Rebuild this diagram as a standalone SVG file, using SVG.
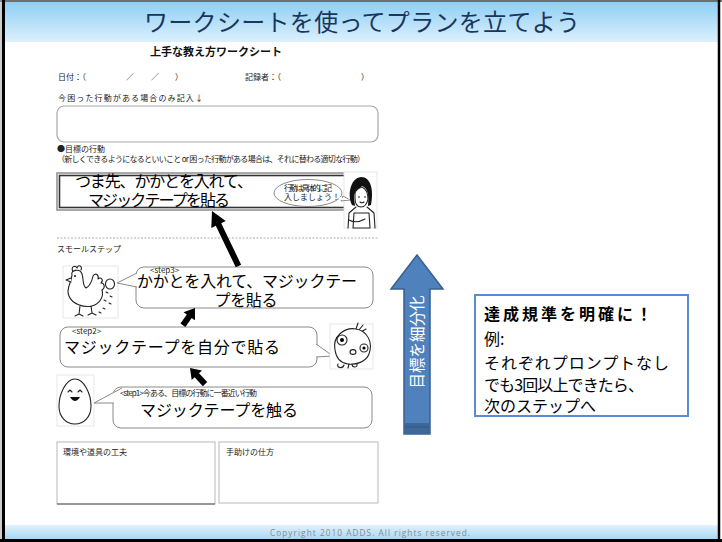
<svg xmlns="http://www.w3.org/2000/svg" width="722" height="542" viewBox="0 0 722 542">
  <defs>
    <linearGradient id="titleGrad" x1="0" y1="0" x2="0" y2="1">
      <stop offset="0" stop-color="#8ecff4"/>
      <stop offset="1" stop-color="#dcf0fd"/>
    </linearGradient>
    <linearGradient id="footGrad" x1="0" y1="0" x2="0" y2="1">
      <stop offset="0" stop-color="#e2f2fd"/>
      <stop offset="1" stop-color="#a6d7f5"/>
    </linearGradient>
    <style>
      .jp { font-family: "Noto Sans CJK JP", "Noto Sans", sans-serif; }
      .ws { font-family: "Noto Sans CJK JP", "Noto Sans", sans-serif; font-size: 8px; fill: #222; }
      .big { font-family: "Noto Sans CJK JP", "Noto Sans", sans-serif; font-size: 16px; fill: #000; }
      .bubble { fill: #fff; stroke: #8a8a8a; stroke-width: 1; }
      .ink { fill: #fff; stroke: #222; stroke-width: 1.1; stroke-linejoin: round; stroke-linecap: round; }
      .inkline { fill: none; stroke: #222; stroke-width: 1.1; stroke-linecap: round; stroke-linejoin: round; }
      .frame { fill: #fff; stroke: #e2e2e2; stroke-width: 0.8; }
      .blk { fill: #000; }
      .note { font-family: "Noto Sans CJK JP", "Noto Sans", sans-serif; font-size: 16px; fill: #000; }
    </style>
  </defs>

  <!-- slide background and frame -->
  <rect x="0" y="0" width="722" height="542" fill="#fff"/>
  <rect x="3" y="2" width="716" height="40" fill="url(#titleGrad)"/>
  <rect x="3" y="525" width="716" height="14" fill="url(#footGrad)"/>
  <line x1="0" y1="1" x2="722" y2="1" stroke="#6f6f6f" stroke-width="2"/>
  <line x1="3.5" y1="0" x2="3.5" y2="542" stroke="#000" stroke-width="3"/>
  <line x1="1" y1="0" x2="1" y2="542" stroke="#9a9a9a" stroke-width="1"/>
  <line x1="719" y1="0" x2="719" y2="542" stroke="#000" stroke-width="2.5"/>
  <line x1="0" y1="540.5" x2="722" y2="540.5" stroke="#000" stroke-width="3"/>

  <text x="362" y="31" text-anchor="middle" class="jp" font-size="24" fill="#1b365d" textLength="436">ワークシートを使ってプランを立てよう</text>
  <text x="370" y="536" text-anchor="middle" font-family="'Open Sans', 'DejaVu Sans', sans-serif" font-size="8.3" fill="#8a8a8a" textLength="200">Copyright 2010 ADDS. All rights reserved.</text>

  <!-- worksheet header -->
  <g id="sheet-header">
    <text x="216" y="56" text-anchor="middle" class="jp" font-size="11" font-weight="bold" fill="#111" textLength="132">上手な教え方ワークシート</text>
    <text x="58" y="80" class="ws">日付：（</text>
    <text x="126" y="80" class="ws">／</text>
    <text x="151" y="80" class="ws">／</text>
    <text x="175" y="80" class="ws">）</text>
    <text x="245" y="80" class="ws">記録者：（</text>
    <text x="361" y="80" class="ws">）</text>
    <text x="58" y="101" class="ws" textLength="145">今困った行動がある場合のみ記入↓</text>
    <rect x="57" y="106" width="321" height="36" rx="7" fill="#fff" stroke="#a8a8a8" stroke-width="1.2"/>
    <text x="57" y="152" class="ws" font-size="8.5">●目標の行動</text>
    <text x="57" y="162" class="ws" font-size="7" textLength="308">（新しくできるようになるといいこと or 困った行動がある場合は、それに替わる適切な行動）</text>
  </g>

  <!-- goal behaviour -->
  <g id="goal">
    <rect x="57" y="173" width="319" height="37" fill="#fff" stroke="#8d8d8d" stroke-width="1.5"/>
    <rect x="59.5" y="175.5" width="314" height="32" fill="none" stroke="#333" stroke-width="1.6"/>
    <text x="75" y="187" class="big" font-size="15" textLength="178">つま先、かかとを入れて、</text>
    <text x="88" y="206" class="big" font-size="15" textLength="142">マジックテープを貼る</text>
  </g>

  <!-- teacher with speech bubble -->
  <g id="teacher">
    <rect x="344" y="172" width="33" height="56" class="frame"/>
    <path d="M343,196 L350,200 L341,201 Z" class="bubble"/>
    <ellipse cx="308" cy="193" rx="34" ry="13.5" class="bubble"/>
    <path d="M339,197 L350,200 L339,200" fill="#fff" stroke="none"/>
    <text x="284" y="191" class="ws" font-size="6" fill="#444" textLength="48">行動は具体的に記</text>
    <text x="284" y="200" class="ws" font-size="6" fill="#444">入しましょう！</text>
    <!-- hair -->
    <path d="M352,205 C347,196 350,178 361,177 C371,177 374,190 371,205 L368,206 C369,196 368,188 362,186 C358,190 355,191 354,196 C354,200 355,204 355,206 Z" fill="#111"/>
    <!-- face -->
    <path d="M355,193 C356,190 359,188 362,187 C366,189 368,193 368,199 C367,204 364,207 361,207 C357,207 355,203 355,198 Z" class="ink"/>
    <circle cx="359" cy="197" r="0.8" class="blk"/>
    <circle cx="365" cy="197" r="0.8" class="blk"/>
    <path d="M360,202 Q362,203.5 364,202" class="inkline"/>
    <!-- body -->
    <path d="M356,207 L349,213 L348,228 M367,207 L374,213 L375,228" class="inkline"/>
    <path d="M354,213 L369,213 L370,228 L353,228 Z" class="ink"/>
    <path d="M349,220 Q356,224 365,219" class="inkline"/>
  </g>

  <!-- small steps section -->
  <line x1="57" y1="238" x2="378" y2="238" stroke="#9a9a9a" stroke-width="0.8" stroke-dasharray="2,1.5"/>
  <text x="57" y="252" class="ws">スモールステップ</text>

  <!-- hen -->
  <g id="hen">
    <rect x="63" y="266" width="55" height="52" class="frame"/>
    <path d="M73,272 C70,266 76,265 77,268 C78,264 83,266 81,270" class="ink"/>
    <path d="M72,275 C70,270 80,268 82,274 C84,280 82,285 86,288 C90,286 92,281 93,276 C96,272 99,275 98,279 C101,276 104,280 101,283 C104,283 106,287 102,290 C104,296 100,304 92,306 C84,308 72,304 69,296 C66,290 70,284 71,280 Z" class="ink"/>
    <path d="M71,278 L66,280 L71,282" class="ink"/>
    <circle cx="75" cy="276" r="0.9" class="blk"/>
    <path d="M80,306 L79,314 L75,316 M79,314 L83,316 M91,306 L92,313 L88,315 M92,313 L96,315" class="inkline"/>
    <ellipse cx="110" cy="284" rx="4.5" ry="5" class="ink"/>
    <path d="M106,292 l2,1 M110,296 l2,1 M104,300 l2,1 M109,303 l2,1 M103,308 l2,1 M99,312 l2,1" class="inkline" stroke-width="1"/>
  </g>

  <!-- step 3 -->
  <g id="step3">
    <rect x="136" y="267" width="237" height="41" rx="8" class="bubble"/>
    <path d="M137,273 L117,283 L137,287" class="bubble"/>
    <text x="150" y="273" class="ws" font-size="7" fill="#999">&lt;step3&gt;</text>
    <text x="247" y="287" text-anchor="middle" class="big" textLength="220">かかとを入れて、マジックテー</text>
    <text x="246" y="306" text-anchor="middle" class="big" textLength="63">プを貼る</text>
  </g>

  <!-- step 2 -->
  <g id="step2">
    <rect x="60" y="327" width="257" height="40" rx="8" class="bubble"/>
    <path d="M316,344 L333,356 L316,357" class="bubble"/>
    <text x="72" y="334" class="ws" font-size="7.5" fill="#333">&lt;step2&gt;</text>
    <text x="64" y="353" class="big" font-size="16.5" textLength="216">マジックテープを自分で貼る</text>
  </g>

  <!-- chick -->
  <g id="chick">
    <rect x="330" y="324" width="43" height="45" class="frame"/>
    <path d="M356,329 L358,323 M359,330 L363,325 M361,332 L366,329" class="inkline"/>
    <path d="M335,350 C332,336 345,327 356,329 C368,331 373,343 369,354 C366,362 356,365 348,364 C340,363 336,357 335,350 Z" class="ink"/>
    <circle cx="342" cy="340" r="5" class="ink"/>
    <circle cx="342" cy="340" r="2" class="blk"/>
    <circle cx="364" cy="348" r="4" class="ink"/>
    <circle cx="364" cy="348" r="1.6" class="blk"/>
    <ellipse cx="353" cy="352" rx="3" ry="2.4" class="ink"/>
    <path d="M338,364 C336,368 343,369 344,365 M349,364 L348,368 M352,364 C352,368 358,368 357,364" class="inkline"/>
  </g>

  <!-- egg -->
  <g id="egg">
    <rect x="57" y="375" width="37" height="51" class="frame"/>
    <path d="M75,379 C84,379 91,394 91,406 C91,417 84,424 75,424 C66,424 59,417 59,406 C59,394 66,379 75,379 Z" class="ink"/>
    <path d="M68,392 l2,-2 l2,2 M78,392 l2,-2 l2,2" class="inkline" stroke-width="1"/>
    <path d="M70,397 Q75,405 80,397 Z" fill="#111"/>
  </g>

  <!-- step 1 -->
  <g id="step1">
    <rect x="113" y="387" width="259" height="41" rx="8" class="bubble"/>
    <path d="M122,388 L94,403 L114,403" class="bubble"/>
    <text x="120" y="396" class="ws" font-size="7.3" fill="#333" textLength="137">&lt;step1&gt;今ある、目標の行動に一番近い行動</text>
    <text x="140" y="416" class="big" textLength="158">マジックテープを触る</text>
  </g>

  <!-- support notes -->
  <g id="support">
    <rect x="57" y="442" width="158" height="62" fill="#fff" stroke="#b8b8b8" stroke-width="1"/>
    <line x1="57" y1="504" x2="215" y2="504" stroke="#555" stroke-width="1.2"/>
    <rect x="219" y="442" width="159" height="61" fill="#fff" stroke="#b8b8b8" stroke-width="1"/>
    <text x="63" y="455" class="ws" font-size="7.8">環境や道具の工夫</text>
    <text x="226" y="455" class="ws" font-size="7.8">手助けの仕方</text>
  </g>

  <!-- connectors -->
  <g id="connectors" fill="#000">
    <polygon points="0,0 8,15 3,15 3,61 -3,61 -3,15 -8,15" transform="translate(212,211) rotate(-25.7)"/>
    <polygon points="0,0 7,10 3,10 3,21 -3,21 -3,10 -7,10" transform="translate(195,308) rotate(35.2)"/>
    <polygon points="0,0 7,10 3,10 3,22 -3,22 -3,10 -7,10" transform="translate(190,368) rotate(-43)"/>
  </g>

  <!-- refine the goal arrow -->
  <g id="refine-arrow">
    <polygon points="417,255 443,289 430,289 430,434 404,434 404,289 391,289" fill="#4f81bd" stroke="#3a6090" stroke-width="1.5" stroke-linejoin="miter"/>
    <rect x="404.8" y="423" width="24.4" height="10.2" fill="#3e6898"/>
    <line x1="405" y1="427" x2="429" y2="427" stroke="#2f5680" stroke-width="0.8"/>
    <text transform="translate(423,342) rotate(-90)" text-anchor="middle" class="jp" font-size="15.5" fill="#fff" textLength="93">目標を細分化</text>
  </g>

  <!-- achievement criterion -->
  <g id="criterion">
    <rect x="475" y="295" width="213" height="121" fill="#fff" stroke="#5b8bd3" stroke-width="2"/>
    <text x="484" y="320" class="note" font-weight="bold" textLength="168">達成規準を明確に！</text>
    <text x="484" y="345" class="note">例:</text>
    <text x="484" y="369" class="note" textLength="185">それぞれプロンプトなし</text>
    <text x="484" y="391" class="note" textLength="160">でも3回以上できたら、</text>
    <text x="484" y="412" class="note" textLength="112">次のステップへ</text>
  </g>
</svg>
